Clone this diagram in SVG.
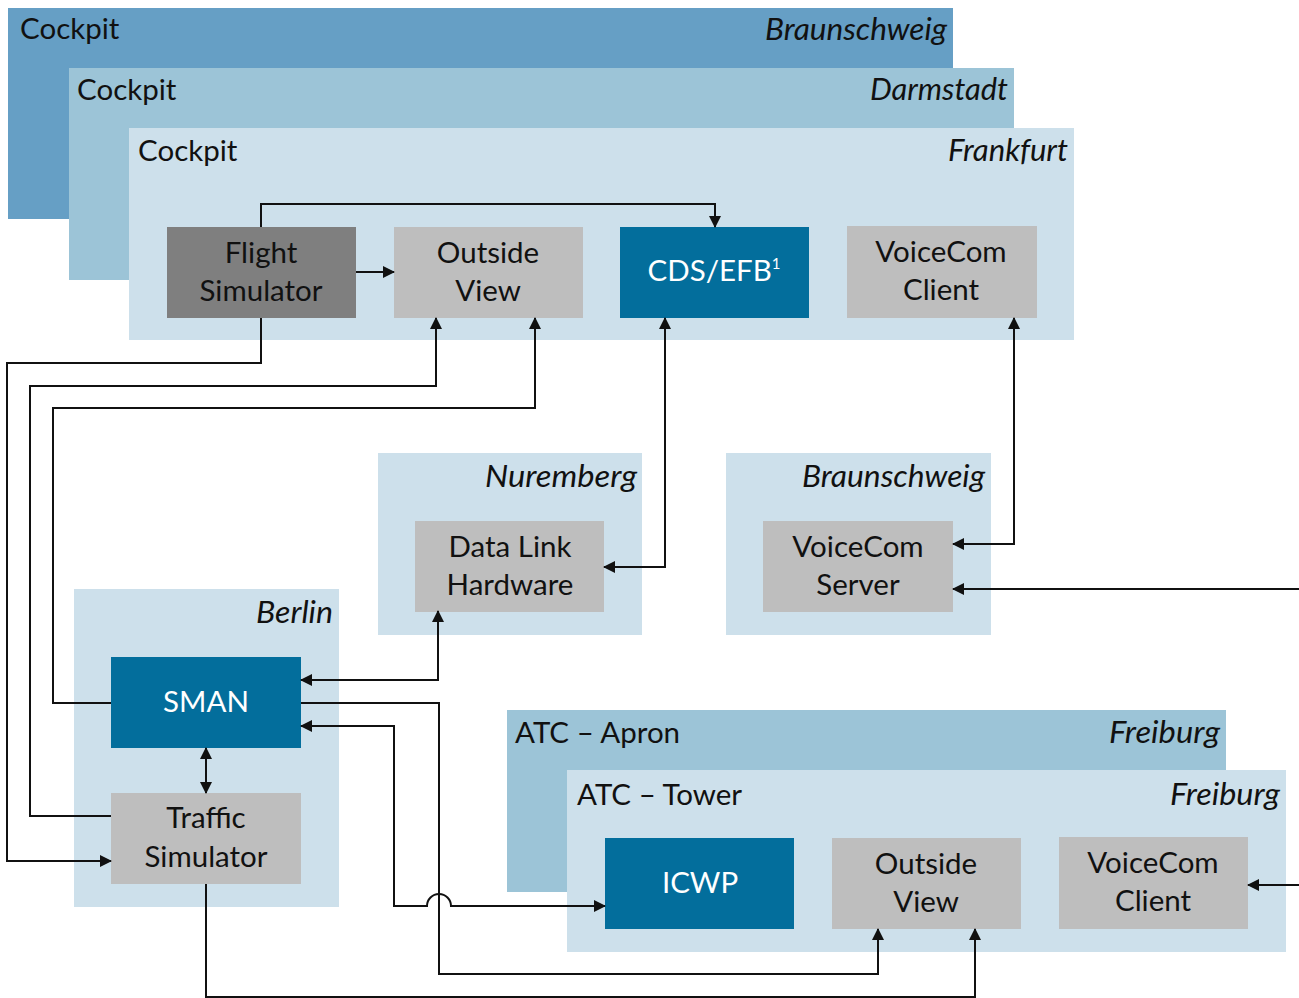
<svg xmlns="http://www.w3.org/2000/svg" width="1299" height="998" viewBox="0 0 1299 998">
<style>
text{font-family:Lato,"Open Sans","Noto Sans",sans-serif;font-size:29.5px;fill:#111}
.c{text-anchor:middle}
.w{fill:#fff}
.it{font-style:italic;text-anchor:end;font-size:30px}
.dark{fill:#669fc5}
.mid{fill:#9cc4d7}
.light{fill:#cde0eb}
.blue{fill:#036e9c}
.gray{fill:#bebebe}
.fs{fill:#7f7f7f}
.conn path{fill:none;stroke:#111;stroke-width:2}
</style>
<defs>
<marker id="ah" markerUnits="userSpaceOnUse" markerWidth="12" markerHeight="12" refX="11" refY="6" orient="auto-start-reverse" viewBox="0 0 12 12">
<path d="M0,0 L12,6 L0,12 z" fill="#111"/>
</marker>
</defs>
<rect width="1299" height="998" fill="#fff"/>

<g id="cockpit-braunschweig">
<rect class="dark" x="8" y="8" width="945" height="211"/>
<text x="20" y="39">Cockpit</text>
<text class="it" x="947" y="40" textLength="182" lengthAdjust="spacingAndGlyphs">Braunschweig</text>
</g>
<g id="cockpit-darmstadt">
<rect class="mid" x="69" y="68" width="945" height="212"/>
<text x="77" y="100">Cockpit</text>
<text class="it" x="1008" y="100" textLength="138" lengthAdjust="spacingAndGlyphs">Darmstadt</text>
</g>
<g id="cockpit-frankfurt">
<rect class="light" x="129" y="128" width="945" height="212"/>
<text x="138" y="161">Cockpit</text>
<text class="it" x="1068" y="161" textLength="120" lengthAdjust="spacingAndGlyphs">Frankfurt</text>
</g>
<g id="flight-simulator">
<rect class="fs" x="167" y="227" width="189" height="91"/>
<text class="c" x="261" y="263">Flight</text>
<text class="c" x="261" y="301">Simulator</text>
</g>
<g id="outside-view-cockpit">
<rect class="gray" x="394" y="227" width="189" height="91"/>
<text class="c" x="488" y="263">Outside</text>
<text class="c" x="488" y="301">View</text>
</g>
<g id="cds-efb">
<rect class="blue" x="620" y="227" width="189" height="91"/>
<text class="c w" x="714" y="281">CDS/EFB<tspan font-size="15" dy="-12">1</tspan></text>
</g>
<g id="voicecom-client-cockpit">
<rect class="gray" x="847" y="226" width="190" height="92"/>
<text class="c" x="941" y="262">VoiceCom</text>
<text class="c" x="941" y="300">Client</text>
</g>

<g id="nuremberg">
<rect class="light" x="378" y="453" width="264" height="182"/>
<text class="it" x="637" y="487" textLength="152" lengthAdjust="spacingAndGlyphs">Nuremberg</text>
</g>
<g id="data-link-hardware">
<rect class="gray" x="415" y="521" width="189" height="91"/>
<text class="c" x="510" y="557">Data Link</text>
<text class="c" x="510" y="595">Hardware</text>
</g>
<g id="braunschweig-server">
<rect class="light" x="726" y="453" width="265" height="182"/>
<text class="it" x="985" y="487" textLength="183" lengthAdjust="spacingAndGlyphs">Braunschweig</text>
</g>
<g id="voicecom-server">
<rect class="gray" x="763" y="521" width="190" height="91"/>
<text class="c" x="858" y="557">VoiceCom</text>
<text class="c" x="858" y="595">Server</text>
</g>

<g id="berlin">
<rect class="light" x="74" y="589" width="265" height="318"/>
<text class="it" x="333" y="623" textLength="77" lengthAdjust="spacingAndGlyphs">Berlin</text>
</g>
<g id="sman">
<rect class="blue" x="111" y="657" width="190" height="91"/>
<text class="c w" x="206" y="712">SMAN</text>
</g>
<g id="traffic-simulator">
<rect class="gray" x="111" y="793" width="190" height="91"/>
<text class="c" x="206" y="828">Traffic</text>
<text class="c" x="206" y="867">Simulator</text>
</g>

<g id="atc-apron">
<rect class="mid" x="507" y="710" width="719" height="182"/>
<text x="515" y="743">ATC – Apron</text>
<text class="it" x="1220" y="743" textLength="111" lengthAdjust="spacingAndGlyphs">Freiburg</text>
</g>
<g id="atc-tower">
<rect class="light" x="567" y="770" width="719" height="182"/>
<text x="577" y="805">ATC – Tower</text>
<text class="it" x="1280" y="805" textLength="110" lengthAdjust="spacingAndGlyphs">Freiburg</text>
</g>
<g id="icwp">
<rect class="blue" x="605" y="838" width="189" height="91"/>
<text class="c w" x="700" y="893">ICWP</text>
</g>
<g id="outside-view-tower">
<rect class="gray" x="832" y="838" width="189" height="91"/>
<text class="c" x="926" y="874">Outside</text>
<text class="c" x="926" y="912">View</text>
</g>
<g id="voicecom-client-tower">
<rect class="gray" x="1059" y="837" width="189" height="92"/>
<text class="c" x="1153" y="873">VoiceCom</text>
<text class="c" x="1153" y="911">Client</text>
</g>

<g id="connectors" class="conn">
<path d="M261,227 V204 H715 V227" marker-end="url(#ah)"/>
<path d="M356,272 H394" marker-end="url(#ah)"/>
<path d="M261,318 V363 H7 V861 H111" marker-end="url(#ah)"/>
<path d="M111,816 H30 V386 H436 V318" marker-end="url(#ah)"/>
<path d="M111,703 H53 V408 H535 V318" marker-end="url(#ah)"/>
<path d="M665,318 V567 H604" marker-start="url(#ah)" marker-end="url(#ah)"/>
<path d="M1014,318 V544 H953" marker-start="url(#ah)" marker-end="url(#ah)"/>
<path d="M1299,589 H953" marker-end="url(#ah)"/>
<path d="M438,611 V680 H301" marker-start="url(#ah)" marker-end="url(#ah)"/>
<path d="M301,703 H439 V974 H878 V929" marker-end="url(#ah)"/>
<path d="M301,726 H394 V906 H427 A12,12 0 0 1 451,906 H605" marker-start="url(#ah)" marker-end="url(#ah)"/>
<path d="M206,748 V793" marker-start="url(#ah)" marker-end="url(#ah)"/>
<path d="M206,884 V997 H975 V929" marker-end="url(#ah)"/>
<path d="M1299,885 H1248" marker-end="url(#ah)"/>
</g>
</svg>
